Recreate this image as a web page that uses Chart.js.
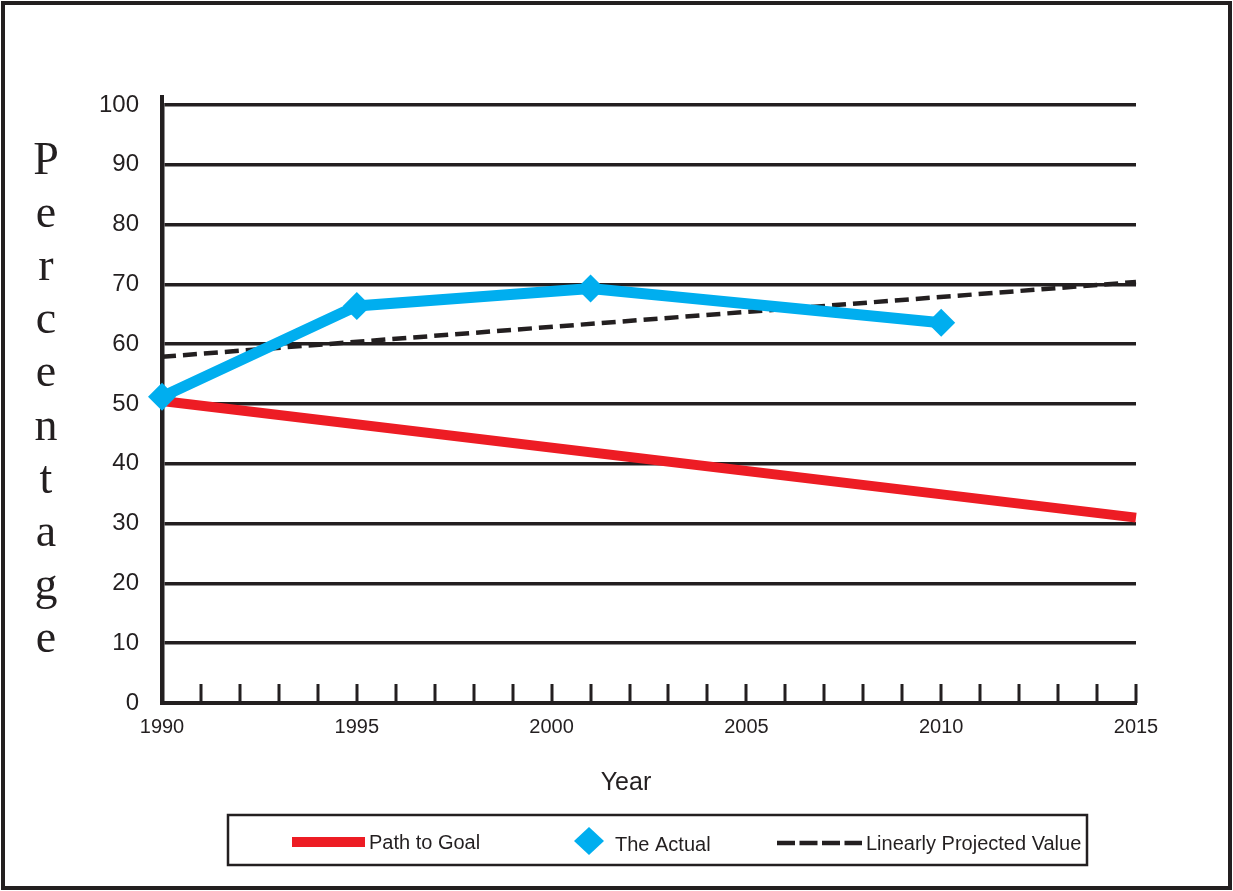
<!DOCTYPE html>
<html>
<head>
<meta charset="utf-8">
<title>Percentage by Year</title>
<script src="https://cdn.jsdelivr.net/npm/chart.js@4.4.1/dist/chart.umd.min.js"></script>
<style>
  html, body { margin: 0; padding: 0; background: #fff; }
  #wrap { width: 1233px; height: 891px; position: relative; }
</style>
</head>
<body>
<div id="wrap"><canvas id="myChart"></canvas></div>
<script>
// valori letti per serie
const actualYears = [1990, 1995, 2001, 2010];
const actualValues = [51.2, 66.4, 69.3, 63.6];
const goalYears = [1990, 2015];
const goalValues = [50.5, 31];
const projYears = [1990, 2015];
const projValues = [57.9, 70.4];
const xTickYears = [1990, 1995, 2000, 2005, 2010, 2015];
const yTickValues = [0, 10, 20, 30, 40, 50, 60, 70, 80, 90, 100];
const legendLabels = ['Path to Goal', 'The Actual', 'Linearly Projected Value'];
const yTitle = 'Percentage';
const xTitle = 'Year';

const INK = '#231f20';
const RED = '#ed1c24';
const BLUE = '#00aeef';
const SANS = '"Liberation Sans", Arial, sans-serif';
const SERIF = '"Liberation Serif", "Times New Roman", serif';

function toPoints(xs, ys) {
    return xs.map((x, i) => ({ x: x, y: ys[i] }));
}

// cornice, titoli degli assi, tacche annuali e legenda
const decorPlugin = {
    id: 'decor',
    beforeDraw(chart) {
        const ctx = chart.ctx;
        ctx.save();
        ctx.fillStyle = '#fff';
        ctx.fillRect(0, 0, chart.width, chart.height);
        ctx.restore();
    },
    beforeDatasetsDraw(chart) {
        const ctx = chart.ctx;
        const xs = chart.scales.x;
        const area = chart.chartArea;
        ctx.save();
        ctx.strokeStyle = INK;
        // tacche per ogni anno, verso l'interno
        ctx.lineWidth = 3;
        for (let yr = xTickYears[0] + 1; yr <= xTickYears[xTickYears.length - 1]; yr++) {
            const px = Math.round(xs.getPixelForValue(yr));
            ctx.beginPath();
            ctx.moveTo(px, area.bottom);
            ctx.lineTo(px, area.bottom - 19);
            ctx.stroke();
        }
        // asse y prolungato sopra il 100
        ctx.lineWidth = 4;
        ctx.beginPath();
        ctx.moveTo(area.left, area.top + 2);
        ctx.lineTo(area.left, area.top - 10);
        ctx.stroke();
        ctx.restore();
    },
    afterDraw(chart) {
        const ctx = chart.ctx;
        const ds = chart.data.datasets;
        ctx.save();

        // cornice esterna
        ctx.strokeStyle = INK;
        ctx.lineWidth = 4;
        ctx.strokeRect(3, 3, chart.width - 6, chart.height - 6);

        // titolo verticale, lettere impilate
        ctx.fillStyle = INK;
        ctx.font = '46px ' + SERIF;
        ctx.textAlign = 'center';
        ctx.textBaseline = 'alphabetic';
        yTitle.split('').forEach((ch, i) => {
            ctx.fillText(ch, 46, 174 + i * 53.1);
        });

        // titolo asse x
        ctx.font = '25px ' + SANS;
        ctx.fillText(xTitle, 626, 790);

        // riquadro legenda
        ctx.lineWidth = 2.5;
        ctx.strokeRect(228, 815, 859, 50);

        ctx.font = '20px ' + SANS;
        ctx.textAlign = 'left';

        // Path to Goal
        ctx.strokeStyle = ds[1].borderColor;
        ctx.lineWidth = 10;
        ctx.beginPath();
        ctx.moveTo(292, 842);
        ctx.lineTo(365, 842);
        ctx.stroke();
        ctx.fillStyle = INK;
        ctx.fillText(legendLabels[0], 369, 849);

        // The Actual
        ctx.fillStyle = ds[0].pointBackgroundColor;
        ctx.beginPath();
        ctx.moveTo(589, 827);
        ctx.lineTo(604, 841);
        ctx.lineTo(589, 855);
        ctx.lineTo(574, 841);
        ctx.closePath();
        ctx.fill();
        ctx.fillStyle = INK;
        ctx.fillText(legendLabels[1], 615, 851);

        // Linearly Projected Value
        ctx.strokeStyle = ds[2].borderColor;
        ctx.lineWidth = 4.5;
        ctx.setLineDash([18, 4.5]);
        ctx.beginPath();
        ctx.moveTo(777, 843);
        ctx.lineTo(862, 843);
        ctx.stroke();
        ctx.setLineDash([]);
        ctx.fillText(legendLabels[2], 866, 850);

        ctx.restore();
    }
};

const ctx = document.getElementById('myChart').getContext('2d');
const myChart = new Chart(ctx, {
    type: 'line',
    data: {
        datasets: [
            {
                label: legendLabels[1],
                data: toPoints(actualYears, actualValues),
                borderColor: BLUE,
                backgroundColor: BLUE,
                borderWidth: 11,
                pointStyle: 'rectRot',
                pointRadius: 14,
                pointBorderWidth: 0,
                pointBackgroundColor: BLUE,
                borderJoinStyle: 'miter',
                clip: false,
                order: 0
            },
            {
                label: legendLabels[0],
                data: toPoints(goalYears, goalValues),
                borderColor: RED,
                backgroundColor: RED,
                borderWidth: 10,
                pointRadius: 0,
                clip: false,
                order: 2
            },
            {
                label: legendLabels[2],
                data: toPoints(projYears, projValues),
                borderColor: INK,
                backgroundColor: INK,
                borderWidth: 4.5,
                borderDash: [14, 7],
                pointRadius: 0,
                clip: false,
                order: 1
            }
        ]
    },
    options: {
        responsive: true,
        maintainAspectRatio: false,
        animation: false,
        layout: { padding: { left: 62, right: 97, top: 105, bottom: 0 } },
        plugins: {
            legend: { display: false },
            tooltip: { enabled: false }
        },
        scales: {
            x: {
                type: 'linear',
                min: xTickYears[0],
                max: xTickYears[xTickYears.length - 1],
                afterFit: (scale) => { scale.height = 188; },
                afterBuildTicks: (scale) => {
                    scale.ticks = xTickYears.map(v => ({ value: v }));
                },
                grid: { display: false, drawTicks: false },
                border: { display: true, color: INK, width: 4 },
                ticks: {
                    color: INK,
                    font: { family: SANS, size: 20 },
                    padding: 12,
                    maxRotation: 0,
                    callback: (v) => String(v)
                }
            },
            y: {
                min: yTickValues[0],
                max: yTickValues[yTickValues.length - 1],
                afterFit: (scale) => { scale.width = 100; },
                afterBuildTicks: (scale) => {
                    scale.ticks = yTickValues.map(v => ({ value: v }));
                },
                grid: { color: INK, lineWidth: 3.5, drawTicks: false },
                border: { display: true, color: INK, width: 4.5 },
                ticks: {
                    color: INK,
                    font: { family: SANS, size: 24 },
                    padding: 23
                }
            }
        }
    },
    plugins: [decorPlugin]
});
</script>
</body>
</html>
